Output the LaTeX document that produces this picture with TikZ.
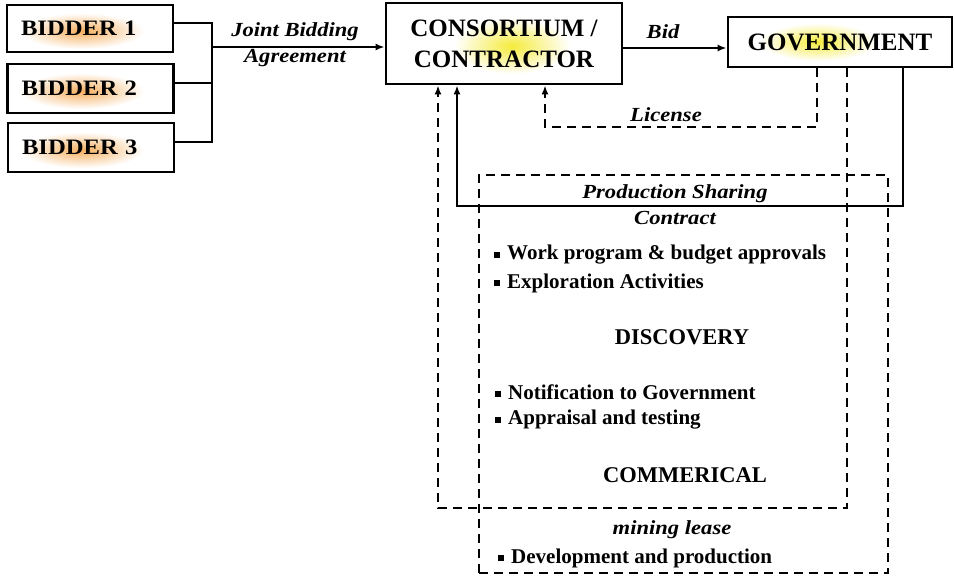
\documentclass[tikz,border=0pt]{standalone}
\usepackage{fontspec}
\setmainfont{Liberation Serif}
\newfontfamily\wideserif[FakeStretch=1.13]{Liberation Serif}
\newfontfamily\bidserif[FakeStretch=1.12]{Liberation Serif}
\usetikzlibrary{arrows.meta,calc}
\newcommand\itembul{\rule[2pt]{6pt}{6pt}\hspace{7pt}}
\definecolor{glowor}{RGB}{245,175,95}
\definecolor{glowye}{RGB}{245,235,60}
\begin{document}
\begin{tikzpicture}[x=1pt,y=-1pt,
  boxline/.style={draw,line width=2.8pt,inner sep=0pt,rectangle},
  bidbox/.style={boxline,minimum width=166pt,minimum height=47pt,inner xsep=14pt,
    text width=138pt,align=left,font=\bidserif\bfseries\fontsize{22}{26}\selectfont},
  bigbox/.style={boxline,align=center,font=\bfseries\fontsize{25}{31}\selectfont},
  conn/.style={line width=2.4pt},
  dline/.style={line width=2.4pt,dash pattern=on 9pt off 6pt},
  tip/.style={-{Latex[length=9pt,width=7pt]}},
  lbl/.style={inner sep=0pt,align=center,font=\wideserif\bfseries\itshape\fontsize{20}{26}\selectfont},
  item/.style={inner sep=0pt,anchor=west,font=\bfseries\fontsize{21}{25}\selectfont},
  head/.style={inner sep=0pt,font=\bfseries\fontsize{22.5}{26}\selectfont}]
\useasboundingbox (0,0) rectangle (955,582);
% glows
\foreach \yy in {31,91,150}{
  \shade[inner color=glowor,outer color=white] (82,\yy) ellipse [x radius=62pt,y radius=18pt];
}
\shade[inner color=glowye,outer color=white] (512,46) ellipse [x radius=58pt,y radius=28pt];
\shade[inner color=glowye,outer color=white] (818,42) ellipse [x radius=58pt,y radius=19pt];
% boxes
\node[bidbox] (b1) at (90,28.5) {BIDDER 1};
\node[bidbox,minimum height=49pt] (b2) at (90.5,88.5) {BIDDER 2};
\node[bidbox,minimum height=49pt] (b3) at (91,147.5) {BIDDER 3};
\node[bigbox,minimum width=236pt,minimum height=81pt] (cons) at (504,43.5) {CONSORTIUM /\\CONTRACTOR};
\node[bigbox,minimum width=224pt,minimum height=50pt] (gov) at (840,42) {GOVERNMENT};
\node[dline,draw,rectangle,minimum width=409pt,minimum height=398pt] (psc) at (683.5,374) {};
% bidder bracket
\coordinate (jt) at (212,23);
\coordinate (j2) at (212,83);
\coordinate (jb) at (212,142);
\coordinate (jm) at (212,47);
\draw[conn] (b1.east |- jt) -- (jt) -- (jb) -- (b3.east |- jb);
\draw[conn] (b2.east |- j2) -- (j2);
\draw[conn,tip] (jm) -- (cons.west |- jm);
% bid
\coordinate (bidy) at (0,48);
\draw[conn,tip] (cons.east |- bidy) -- (gov.west |- bidy);
% license
\coordinate (xl) at (817,0);
\coordinate (licc) at (545,127);
\draw[dline,tip] (gov.south -| xl) |- (licc) -- (cons.south -| licc);
% loop dashed
\coordinate (xd) at (847,0);
\coordinate (loopc) at (438,508);
\draw[dline,tip] (gov.south -| xd) |- (loopc) -- (cons.south -| loopc);
% solid psc line
\coordinate (xs) at (903,0);
\coordinate (solc) at (457,206);
\draw[conn,tip] (gov.south -| xs) |- (solc) -- (cons.south -| solc);
% labels
\node[lbl] (jba) at (295,45) {Joint Bidding\\Agreement};
\node[lbl] (bidl) at (663,32) {Bid};
\node[lbl] (licl) at (666,115) {License};
\node[lbl] (pscl) at (675,205) {Production Sharing\\Contract};
\node[item] (i1) at (494,255) {\itembul Work program \& budget approvals};
\node[item] (i2) at (494,283) {\itembul Exploration Activities};
\node[head] (disc) at (682,337) {DISCOVERY};
\node[item] (i3) at (495,392) {\itembul Notification to Government};
\node[item] (i4) at (495,420) {\itembul Appraisal and testing};
\node[head] (comm) at (685,475) {COMMERICAL};
\node[lbl] (ml) at (672,530) {mining lease};
\node[item] (i5) at (498,558) {\itembul Development and production};
\end{tikzpicture}
\end{document}
